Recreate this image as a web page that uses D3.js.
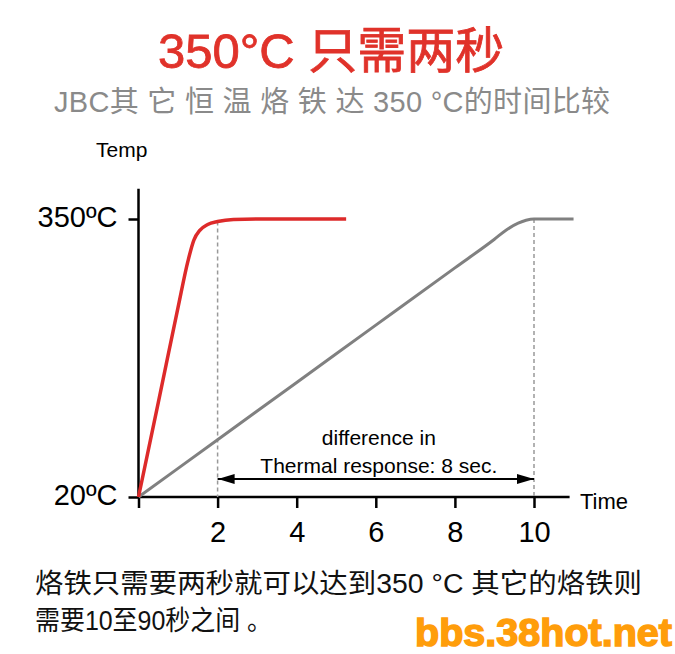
<!DOCTYPE html>
<html>
<head>
<meta charset="utf-8">
<script src="https://cdn.jsdelivr.net/npm/d3@7"></script>
<style>
  body { margin: 0; background: #fff; }
</style>
</head>
<body>
<div id="chart-area"></div>
<script>
const titleText = "350°C 只需两秒";
const subtitleText = "JBC其 它 恒 温 烙 铁 达 350 °C的时间比较";
const noteLines = ["烙铁只需要两秒就可以达到350 °C 其它的烙铁则", "需要10至90秒之间 。"];
const watermarkText = "bbs.38hot.net";
const annotationLines = ["difference in", "Thermal response: 8 sec."];

const timeTicks = [0, 2, 4, 6, 8, 10];
const tempTicks = [20, 350];
const tempLabels = ["20ºC", "350ºC"];

// JBC iron (red) and other iron (grey): time in s, temperature in °C
const jbcTime = [0, 0.5, 1.0, 1.25, 1.4, 1.55, 1.75, 2, 2.4, 3, 5.25];
const jbcTemp = [20, 132, 245, 300, 325, 336.5, 343.5, 347, 349.5, 350, 350];
const otherTime = [0, 2, 4, 6, 8, 9, 9.3, 9.6, 9.8, 10, 11];
const otherTemp = [20, 88, 156, 224, 292, 326, 337, 345, 348.5, 350, 350];

const markTimes = [2, 10];

const canvasWidth = 675;
const canvasHeight = 654;

const svg = d3.select("#chart-area").append("svg")
  .attr("width", canvasWidth)
  .attr("height", canvasHeight);

const latin = "'Liberation Sans', Arial, 'Noto Sans CJK SC', sans-serif";

const xScale = d3.scaleLinear().domain([0, 10]).range([138.5, 534]);
const yScale = d3.scaleLinear().domain([20, 350]).range([497, 219]);

// titles
svg.append("text")
  .attr("x", 158).attr("y", 68)
  .attr("font-family", latin).attr("font-size", "49px")
  .attr("fill", "#e0322a").attr("stroke", "#e0322a").attr("stroke-width", 0.8)
  .text(titleText);

svg.append("text")
  .attr("x", 54).attr("y", 112)
  .attr("textLength", 556).attr("lengthAdjust", "spacing")
  .attr("font-family", latin).attr("font-size", "29px")
  .attr("fill", "#8a8a8a")
  .text(subtitleText);

// axes
const xAxis = d3.axisBottom(xScale).tickValues(timeTicks)
  .tickSize(11).tickPadding(13)
  .tickFormat(d => d === 0 ? "" : d);
const xg = svg.append("g").attr("transform", `translate(0, ${yScale(20)})`).call(xAxis);
xg.select(".domain").remove();
xg.selectAll(".tick line").attr("stroke", "#000").attr("stroke-width", 2.5);
xg.selectAll("text").attr("font-family", latin).attr("font-size", "29px").attr("fill", "#000");

const yAxis = d3.axisLeft(yScale).tickValues(tempTicks)
  .tickSize(10).tickPadding(11)
  .tickFormat((d, i) => tempLabels[i]);
const yg = svg.append("g").attr("transform", `translate(${xScale(0)}, 0)`).call(yAxis);
yg.select(".domain").remove();
yg.selectAll(".tick line").attr("stroke", "#000").attr("stroke-width", 2.5);
yg.selectAll("text").attr("font-family", latin).attr("font-size", "29px").attr("fill", "#000").attr("dy", "0.27em");

svg.append("line")
  .attr("x1", xScale(0)).attr("x2", xScale(0))
  .attr("y1", yScale(20)).attr("y2", yScale(386))
  .attr("stroke", "#000").attr("stroke-width", 2.5);

svg.append("line")
  .attr("x1", xScale(0)).attr("x2", xScale(10.9))
  .attr("y1", yScale(20)).attr("y2", yScale(20))
  .attr("stroke", "#000").attr("stroke-width", 2.5);

svg.append("text")
  .attr("x", 580).attr("y", 509)
  .attr("font-family", latin).attr("font-size", "22px")
  .text("Time");

svg.append("text")
  .attr("x", 96).attr("y", 157)
  .attr("font-family", latin).attr("font-size", "21px")
  .text("Temp");

// dashed markers at 2 s and 10 s
const markTemps = [jbcTemp[jbcTime.indexOf(2)], otherTemp[otherTime.indexOf(10)]];
svg.selectAll(".mark")
  .data(markTimes)
  .enter()
  .append("line")
  .attr("class", "mark")
  .attr("x1", d => xScale(d)).attr("x2", d => xScale(d))
  .attr("y1", (d, i) => yScale(markTemps[i])).attr("y2", yScale(20))
  .attr("stroke", "#999").attr("stroke-width", 1.5)
  .attr("stroke-dasharray", "4,3");

// curves
const line = d3.line()
  .x(d => xScale(d[0]))
  .y(d => yScale(d[1]))
  .curve(d3.curveMonotoneX);

svg.append("path")
  .datum(otherTime.map((t, i) => [t, otherTemp[i]]))
  .attr("d", line)
  .attr("fill", "none")
  .attr("stroke", "#808080")
  .attr("stroke-width", 3);

svg.append("path")
  .datum(jbcTime.map((t, i) => [t, jbcTemp[i]]))
  .attr("d", line)
  .attr("fill", "none")
  .attr("stroke", "#dd2a2a")
  .attr("stroke-width", 3.5);

// double arrow
const defs = svg.append("defs");
defs.append("marker")
  .attr("id", "arrow")
  .attr("viewBox", "0 0 17 10")
  .attr("refX", 17).attr("refY", 5)
  .attr("markerWidth", 17).attr("markerHeight", 10)
  .attr("markerUnits", "userSpaceOnUse")
  .attr("orient", "auto-start-reverse")
  .append("path")
  .attr("d", "M0,0L17,5L0,10Z")
  .attr("fill", "#000");

const arrowY = yScale(20) - 18;
svg.append("line")
  .attr("x1", xScale(markTimes[0])).attr("x2", xScale(markTimes[1]))
  .attr("y1", arrowY).attr("y2", arrowY)
  .attr("stroke", "#000").attr("stroke-width", 2)
  .attr("marker-start", "url(#arrow)")
  .attr("marker-end", "url(#arrow)");

const midX = (xScale(markTimes[0]) + xScale(markTimes[1])) / 2 + 3;
svg.selectAll(".anno")
  .data(annotationLines)
  .enter()
  .append("text")
  .attr("class", "anno")
  .attr("x", midX)
  .attr("y", (d, i) => 445 + i * 28)
  .attr("text-anchor", "middle")
  .attr("font-family", latin).attr("font-size", "21px")
  .text(d => d);

// notes
const noteWidths = [607, 237];
svg.selectAll(".note")
  .data(noteLines)
  .enter()
  .append("text")
  .attr("class", "note")
  .attr("x", 35)
  .attr("y", (d, i) => 593 + i * 37)
  .attr("textLength", (d, i) => noteWidths[i]).attr("lengthAdjust", "spacingAndGlyphs")
  .attr("font-family", latin).attr("font-size", "27px")
  .attr("fill", "#111")
  .text(d => d);

svg.append("text")
  .attr("x", 672).attr("y", 646)
  .attr("text-anchor", "end")
  .attr("textLength", 257).attr("lengthAdjust", "spacingAndGlyphs")
  .attr("font-family", latin).attr("font-size", "38px").attr("font-weight", "bold")
  .attr("fill", "#ff9d0a").attr("stroke", "#ff9d0a").attr("stroke-width", 1.5)
  .text(watermarkText);
</script>
</body>
</html>
